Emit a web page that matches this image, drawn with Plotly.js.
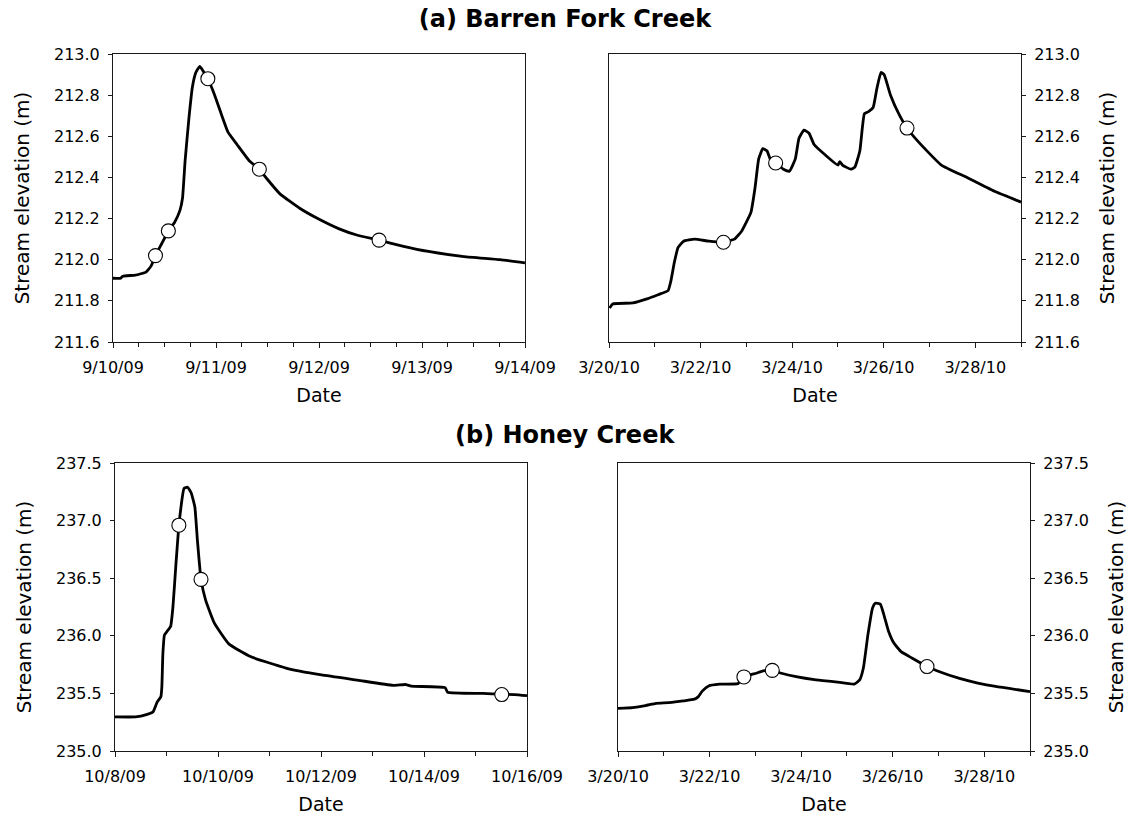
<!DOCTYPE html>
<html>
<head>
<meta charset="utf-8">
<script src="https://cdn.plot.ly/plotly-3.0.1.min.js"></script>
<style>
html, body { margin: 0; padding: 0; background: #ffffff; }
#chart { width: 1130px; height: 818px; }
</style>
</head>
<body>
<div id="chart"></div>
<script>
// ---------- (a) Barren Fork Creek, September 2009 event ----------
const barrenSepTime = [
  '2009-09-10 00:00','2009-09-10 01:48','2009-09-10 02:15','2009-09-10 05:12','2009-09-10 07:42',
  '2009-09-10 08:54','2009-09-10 09:54','2009-09-10 11:24','2009-09-10 12:54','2009-09-10 14:18',
  '2009-09-10 15:36','2009-09-10 16:12','2009-09-10 16:48','2009-09-10 17:42','2009-09-10 18:30',
  '2009-09-10 19:18','2009-09-10 20:12','2009-09-10 20:36','2009-09-10 21:12','2009-09-10 22:06',
  '2009-09-10 23:30','2009-09-11 01:12','2009-09-11 02:48','2009-09-11 04:54','2009-09-11 07:48',
  '2009-09-11 10:06','2009-09-11 12:00','2009-09-11 14:54','2009-09-11 19:30','2009-09-11 23:42',
  '2009-09-12 04:42','2009-09-12 08:48','2009-09-12 14:00','2009-09-12 19:42','2009-09-13 01:30',
  '2009-09-13 09:48','2009-09-13 18:12','2009-09-14 00:00'
];
const barrenSepElev = [
  211.91, 211.91, 211.92, 211.925, 211.94,
  211.97, 212.02, 212.08, 212.14, 212.18,
  212.24, 212.30, 212.48, 212.69, 212.84,
  212.91, 212.94, 212.93, 212.91, 212.88,
  212.81, 212.71, 212.62, 212.56, 212.48,
  212.44, 212.39, 212.32, 212.25, 212.20,
  212.15, 212.12, 212.095, 212.065, 212.04,
  212.015, 212.00, 211.985
];
const barrenSepSampleTime = ['2009-09-10 09:54','2009-09-10 12:54','2009-09-10 22:06','2009-09-11 10:06','2009-09-12 14:00'];
const barrenSepSampleElev = [212.02, 212.14, 212.88, 212.44, 212.095];

// ---------- (a) Barren Fork Creek, March 2010 event ----------
const barrenMarTime = [
  '2010-03-20 00:20','2010-03-20 01:55','2010-03-20 12:29','2010-03-20 19:55','2010-03-21 01:41',
  '2010-03-21 06:58','2010-03-21 08:24','2010-03-21 10:19','2010-03-21 12:14','2010-03-21 15:07',
  '2010-03-21 20:53','2010-03-22 04:19','2010-03-22 12:00','2010-03-22 17:46','2010-03-22 21:36',
  '2010-03-23 02:24','2010-03-23 04:34','2010-03-23 06:29','2010-03-23 08:38','2010-03-23 10:48',
  '2010-03-23 12:43','2010-03-23 15:22','2010-03-23 19:26','2010-03-23 22:34','2010-03-24 01:41',
  '2010-03-24 03:36','2010-03-24 06:14','2010-03-24 08:53','2010-03-24 11:31','2010-03-24 17:17',
  '2010-03-25 00:00','2010-03-25 00:58','2010-03-25 02:24','2010-03-25 06:43','2010-03-25 08:53',
  '2010-03-25 11:31','2010-03-25 13:55','2010-03-25 16:05','2010-03-25 18:29','2010-03-25 20:24',
  '2010-03-25 22:34','2010-03-26 00:14','2010-03-26 03:36','2010-03-26 08:24','2010-03-26 12:14',
  '2010-03-26 18:00','2010-03-27 06:14','2010-03-27 19:41','2010-03-28 10:48','2010-03-29 00:00'
];
const barrenMarElev = [
  211.765, 211.785, 211.79, 211.81, 211.83,
  211.85, 211.895, 211.99, 212.06, 212.09,
  212.10, 212.09, 212.085, 212.10, 212.14,
  212.23, 212.35, 212.49, 212.54, 212.53,
  212.485, 212.47, 212.44, 212.43, 212.49,
  212.59, 212.63, 212.615, 212.56, 212.51,
  212.46, 212.477, 212.46, 212.44, 212.45,
  212.53, 212.71, 212.72, 212.74, 212.83,
  212.91, 212.90, 212.80, 212.70, 212.64,
  212.575, 212.46, 212.40, 212.33, 212.28
];
const barrenMarSampleTime = ['2010-03-22 12:00','2010-03-23 15:22','2010-03-26 12:14'];
const barrenMarSampleElev = [212.085, 212.47, 212.64];

// ---------- (b) Honey Creek, October 2009 event ----------
const honeyOctTime = [
  '2009-10-08 00:00','2009-10-08 09:36','2009-10-08 14:38','2009-10-08 17:46','2009-10-08 19:41',
  '2009-10-08 21:22','2009-10-08 21:50','2009-10-08 22:19','2009-10-08 23:02','2009-10-09 00:43',
  '2009-10-09 01:55','2009-10-09 03:00','2009-10-09 04:19','2009-10-09 05:46','2009-10-09 06:58',
  '2009-10-09 08:10','2009-10-09 09:50','2009-10-09 11:31','2009-10-09 13:12','2009-10-09 14:24',
  '2009-10-09 16:05','2009-10-09 18:14','2009-10-09 22:19','2009-10-10 05:02','2009-10-10 15:07',
  '2009-10-11 07:41','2009-10-12 00:14','2009-10-12 17:02','2009-10-13 09:36','2009-10-13 15:36',
  '2009-10-13 18:00','2009-10-14 09:50','2009-10-14 11:02','2009-10-15 03:22','2009-10-15 12:14',
  '2009-10-15 18:14','2009-10-16 00:00'
];
const honeyOctElev = [
  235.296, 235.296, 235.316, 235.34, 235.426,
  235.47, 235.557, 235.847, 236.006, 236.05,
  236.08, 236.25, 236.60, 236.96, 237.15,
  237.28, 237.29, 237.24, 237.12, 236.83,
  236.49, 236.31, 236.11, 235.93, 235.82,
  235.72, 235.66, 235.615, 235.57, 235.577,
  235.563, 235.55, 235.51, 235.50, 235.493,
  235.49, 235.48
];
const honeyOctSampleTime = ['2009-10-09 05:46','2009-10-09 16:05','2009-10-15 12:14'];
const honeyOctSampleElev = [236.96, 236.49, 235.49];

// ---------- (b) Honey Creek, March 2010 event ----------
const honeyMarTime = [
  '2010-03-20 00:00','2010-03-20 07:41','2010-03-20 14:24','2010-03-20 19:55','2010-03-21 02:38',
  '2010-03-21 10:19','2010-03-21 16:05','2010-03-21 18:00','2010-03-21 20:10','2010-03-21 23:31',
  '2010-03-22 05:17','2010-03-22 14:53','2010-03-22 18:00','2010-03-23 00:29','2010-03-23 04:05',
  '2010-03-23 08:53','2010-03-23 13:41','2010-03-23 21:22','2010-03-24 06:58','2010-03-24 18:14',
  '2010-03-25 03:50','2010-03-25 06:43','2010-03-25 08:38','2010-03-25 11:02','2010-03-25 13:26',
  '2010-03-25 14:53','2010-03-25 17:31','2010-03-25 19:26','2010-03-25 21:50','2010-03-26 00:43',
  '2010-03-26 04:34','2010-03-26 10:19','2010-03-26 18:00','2010-03-26 23:31','2010-03-27 11:02',
  '2010-03-27 20:38','2010-03-28 06:00','2010-03-29 00:00'
];
const honeyMarElev = [
  235.37, 235.377, 235.394, 235.414, 235.42,
  235.435, 235.45, 235.47, 235.52, 235.565,
  235.58, 235.585, 235.643, 235.675, 235.695,
  235.70, 235.675, 235.646, 235.62, 235.60,
  235.58, 235.617, 235.72, 236.01, 236.24,
  236.283, 236.275, 236.18, 236.04, 235.935,
  235.86, 235.805, 235.733, 235.695, 235.63,
  235.59, 235.56, 235.516
];
const honeyMarSampleTime = ['2010-03-22 18:00','2010-03-23 08:53','2010-03-26 18:00'];
const honeyMarSampleElev = [235.643, 235.70, 235.733];

// ---------- axis tick settings ----------
const barrenYRange = [211.6, 213.0];
const honeyYRange = [235.0, 237.5];
const yTitleText = 'Stream elevation (m)';
const xTitleText = 'Date';
const titleA = '(a) Barren Fork Creek';
const titleB = '(b) Honey Creek';

// ---------- styling ----------
const FONT = 'DejaVu Sans, Arial, sans-serif';
const INK = '#000000';
const FRAME = '#1a1a1a';
const DAY = 86400000;

function lineTrace(x, y, xa, ya) {
  return { type: 'scatter', mode: 'lines', x: x, y: y, xaxis: xa, yaxis: ya,
    line: { color: INK, width: 2.8, shape: 'spline', smoothing: 0.4 },
    hoverinfo: 'x+y', showlegend: false };
}
function sampleTrace(x, y, xa, ya) {
  return { type: 'scatter', mode: 'markers', x: x, y: y, xaxis: xa, yaxis: ya,
    marker: { symbol: 'circle', size: 14, color: '#ffffff', line: { color: INK, width: 1.1 } },
    hoverinfo: 'x+y', showlegend: false };
}

const data = [
  lineTrace(barrenSepTime, barrenSepElev, 'x', 'y'),
  sampleTrace(barrenSepSampleTime, barrenSepSampleElev, 'x', 'y'),
  lineTrace(barrenMarTime, barrenMarElev, 'x2', 'y2'),
  sampleTrace(barrenMarSampleTime, barrenMarSampleElev, 'x2', 'y2'),
  lineTrace(honeyOctTime, honeyOctElev, 'x3', 'y3'),
  sampleTrace(honeyOctSampleTime, honeyOctSampleElev, 'x3', 'y3'),
  lineTrace(honeyMarTime, honeyMarElev, 'x4', 'y4'),
  sampleTrace(honeyMarSampleTime, honeyMarSampleElev, 'x4', 'y4')
];

const W = 1130, H = 818;
function xd(a, b) { return [a / W, b / W]; }
function yd(top, bottom) { return [(H - bottom) / H, (H - top) / H]; }

function xAxis(domain, anchor, range, dtick, tick0, minorDtick) {
  return {
    type: 'date', domain: domain, anchor: anchor, range: range,
    tick0: tick0, dtick: dtick, tickformat: '%-m/%-d/%y',
    ticks: 'outside', ticklen: 5, tickwidth: 1, tickcolor: FRAME,
    minor: { dtick: minorDtick, tick0: tick0, ticks: 'outside', ticklen: 4, tickwidth: 1, tickcolor: FRAME, showgrid: false },
    showline: true, linecolor: FRAME, linewidth: 1, mirror: true,
    showgrid: false, zeroline: false, fixedrange: true,
    ticklabelstandoff: 6,
    tickfont: { family: FONT, size: 16, color: INK },
    title: { text: xTitleText, font: { family: FONT, size: 19, color: INK }, standoff: 12 }
  };
}
function yAxis(domain, anchor, range, dtick, side) {
  return {
    domain: domain, anchor: anchor, range: range, dtick: dtick, tick0: range[0],
    tickformat: '.1f', side: side,
    ticks: 'outside', ticklen: 4, tickwidth: 1, tickcolor: FRAME,
    showline: true, linecolor: FRAME, linewidth: 1, mirror: true,
    showgrid: false, zeroline: false, fixedrange: true,
    ticklabelstandoff: 5,
    tickfont: { family: FONT, size: 16, color: INK },
    title: { text: yTitleText, font: { family: FONT, size: 20, color: INK }, standoff: side === 'left' ? 18 : 20 }
  };
}

const layout = {
  width: W, height: H,
  margin: { l: 0, r: 0, t: 0, b: 0 },
  paper_bgcolor: '#ffffff', plot_bgcolor: '#ffffff',
  showlegend: false,
  font: { family: FONT, color: INK },
  title: { text: '<b>' + titleA + '</b>', x: 0.5, xanchor: 'center', xref: 'paper',
           y: 1 - 19 / H, yref: 'container', yanchor: 'middle',
           font: { family: FONT, size: 24, color: INK } },
  xaxis:  xAxis(xd(113, 525), 'y',  ['2009-09-10', '2009-09-14'], DAY, '2009-09-10', DAY / 4),
  yaxis:  yAxis(yd(54, 342), 'x', barrenYRange, 0.2, 'left'),
  xaxis2: xAxis(xd(609, 1021), 'y2', ['2010-03-20', '2010-03-29'], 2 * DAY, '2010-03-20', DAY),
  yaxis2: yAxis(yd(54, 342), 'x2', barrenYRange, 0.2, 'right'),
  xaxis3: xAxis(xd(115, 527), 'y3', ['2009-10-08', '2009-10-16'], 2 * DAY, '2009-10-08', DAY),
  yaxis3: yAxis(yd(463, 751), 'x3', honeyYRange, 0.5, 'left'),
  xaxis4: xAxis(xd(618, 1030), 'y4', ['2010-03-20', '2010-03-29'], 2 * DAY, '2010-03-20', DAY),
  yaxis4: yAxis(yd(463, 751), 'x4', honeyYRange, 0.5, 'right'),
  annotations: [
    { text: '<b>' + titleB + '</b>', xref: 'paper', yref: 'paper', x: 0.5, y: (H - 435) / H,
      xanchor: 'center', yanchor: 'middle', showarrow: false,
      font: { family: FONT, size: 24, color: INK } }
  ]
};

Plotly.newPlot('chart', data, layout, { displayModeBar: false, staticPlot: true });
</script>
</body>
</html>
